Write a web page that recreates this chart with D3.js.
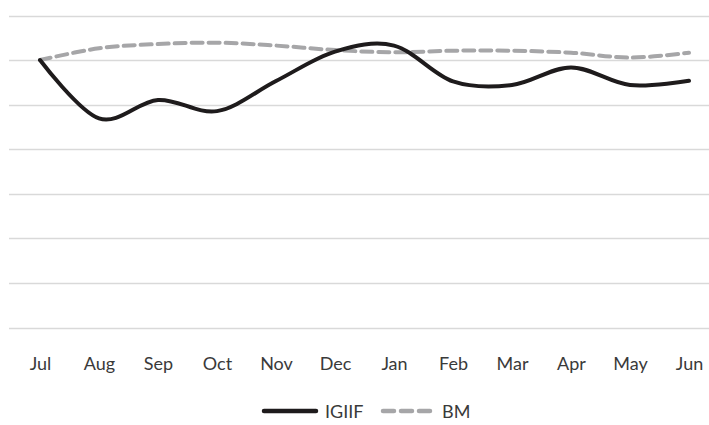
<!DOCTYPE html>
<html><head><meta charset="utf-8">
<script src="https://cdn.jsdelivr.net/npm/d3@7/dist/d3.min.js"></script>
<style>body{margin:0;background:#fff}svg{display:block}</style>
</head><body>
<svg id="c" width="709" height="425"></svg>
<script>
const months = ["Jul","Aug","Sep","Oct","Nov","Dec","Jan","Feb","Mar","Apr","May","Jun"];
const igiif = [120.0, 93.8, 102.1, 97.1, 110.6, 123.8, 126.5, 110.4, 108.8, 116.7, 108.8, 110.7];
const bm = [120.0, 125.3, 127.2, 127.8, 126.5, 124.5, 123.5, 124.2, 124.2, 123.3, 121.1, 123.3];
const yTicks = [0, 20, 40, 60, 80, 100, 120, 140];
const seriesNames = ["IGIIF", "BM"];

const svg = d3.select("#c");
const x = d3.scalePoint().domain(months).range([10.5, 718.5]).padding(0.5);
const y = d3.scaleLinear().domain([0, 140]).range([327.5, 15.5]);

// gridlines
svg.append("g").selectAll("line").data(yTicks).join("line")
  .attr("x1", 9).attr("x2", 709)
  .attr("y1", d => Math.round(y(d)) + 0.5).attr("y2", d => Math.round(y(d)) + 0.5)
  .attr("stroke", "#d9d9d9").attr("stroke-width", 1.3);

// x labels
const xAxis = d3.axisBottom(x).tickSize(0).tickPadding(0);
const gx = svg.append("g").attr("transform", "translate(0,357)").call(xAxis);
gx.select(".domain").remove();
gx.selectAll("text").attr("font-family", "Lato, 'Open Sans', sans-serif").attr("font-size", 18)
  .attr("fill", "#3a3a3a").attr("dy", "0.71em");

const line = d3.line().x((d, i) => x(months[i])).y(d => y(d)).curve(d3.curveCatmullRom.alpha(0));

svg.append("path").datum(bm).attr("d", line).attr("fill", "none")
  .attr("stroke", "#a6a6a8").attr("stroke-width", 4).attr("stroke-dasharray", "11,6")
  .attr("stroke-linecap", "round");
svg.append("path").datum(igiif).attr("d", line).attr("fill", "none")
  .attr("stroke", "#1e1b1c").attr("stroke-width", 4).attr("stroke-linecap", "round");

// legend
const lg = svg.append("g").attr("font-family", "Lato, 'Open Sans', sans-serif").attr("font-size", 18).attr("fill", "#3a3a3a");
lg.append("line").attr("x1", 264).attr("x2", 316).attr("y1", 411).attr("y2", 411)
  .attr("stroke", "#1e1b1c").attr("stroke-width", 4.5).attr("stroke-linecap", "round");
lg.append("text").attr("x", 325).attr("y", 418).text(seriesNames[0]);
lg.append("line").attr("x1", 383).attr("x2", 430).attr("y1", 411).attr("y2", 411)
  .attr("stroke", "#a6a6a8").attr("stroke-width", 4.5).attr("stroke-dasharray", "11,7").attr("stroke-linecap", "round");
lg.append("text").attr("x", 442).attr("y", 418).text(seriesNames[1]);
</script>
</body></html>
